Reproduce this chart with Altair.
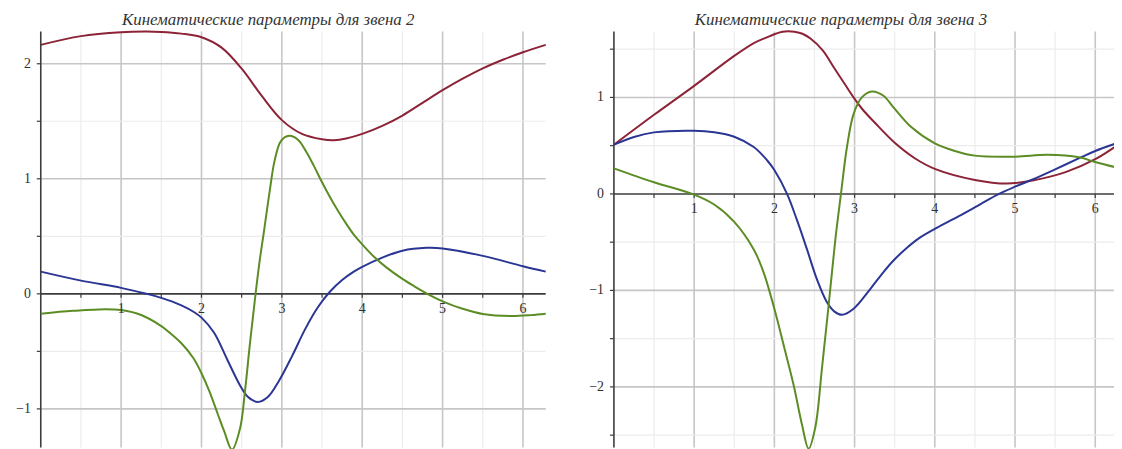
import math
import altair as alt
import pandas as pd

TWO_PI = 2 * math.pi

# ---------------- data: link 2 (left) ----------------
r2_x = [0, 0.5, 1.0, 1.3, 1.5, 1.75, 2.0, 2.25, 2.5, 2.75, 3.0, 3.25, 3.5, 3.65, 3.8, 4.0, 4.25, 4.5, 4.75, 5.0, 5.25, 5.5, 5.75, 6.0, TWO_PI]
r2_y = [2.164, 2.24, 2.274, 2.28, 2.277, 2.262, 2.23, 2.14, 1.957, 1.72, 1.51, 1.39, 1.343, 1.335, 1.35, 1.39, 1.46, 1.55, 1.66, 1.77, 1.87, 1.96, 2.035, 2.10, 2.164]

b2_x = [0, 0.5, 1.0, 1.3, 1.5, 1.75, 1.91, 2.0, 2.155, 2.317, 2.48, 2.58, 2.70, 2.825, 2.967, 3.13, 3.29, 3.45, 3.6, 3.75, 3.9, 4.0, 4.25, 4.5, 4.8, 5.0, 5.5, 6.0, TWO_PI]
b2_y = [0.193, 0.115, 0.052, 0.003, -0.035, -0.10, -0.16, -0.207, -0.336, -0.566, -0.796, -0.897, -0.94, -0.897, -0.753, -0.537, -0.307, -0.115, 0.02, 0.12, 0.195, 0.235, 0.315, 0.375, 0.40, 0.395, 0.33, 0.24, 0.193]

g2_x = [0, 0.4, 0.8, 1.0, 1.25, 1.5, 1.6, 1.75, 1.9, 2.0, 2.1, 2.2, 2.28, 2.38, 2.48, 2.54, 2.6, 2.66, 2.72, 2.78, 2.85, 2.91, 2.99, 3.09, 3.2, 3.3, 3.4, 3.5, 3.6, 3.7, 3.8, 3.9, 4.0, 4.15, 4.3, 4.5, 4.65, 4.81, 5.0, 5.25, 5.5, 5.85, 6.1, TWO_PI]
g2_y = [-0.173, -0.148, -0.133, -0.141, -0.184, -0.28, -0.335, -0.43, -0.56, -0.69, -0.85, -1.04, -1.19, -1.355, -1.17, -0.853, -0.451, -0.078, 0.267, 0.555, 0.90, 1.158, 1.33, 1.374, 1.34, 1.24, 1.11, 0.97, 0.84, 0.72, 0.61, 0.51, 0.43, 0.32, 0.23, 0.13, 0.065, 0.0, -0.065, -0.13, -0.175, -0.193, -0.185, -0.173]

# ---------------- data: link 3 (right) ----------------
r3_x = [0, 0.5, 1.0, 1.5, 1.75, 1.9, 2.0, 2.1, 2.17, 2.25, 2.35, 2.45, 2.6, 2.75, 2.9, 3.0, 3.1, 3.25, 3.5, 3.75, 4.0, 4.5, 4.9, 5.22, 5.63, 6.0, TWO_PI]
r3_y = [0.51, 0.82, 1.12, 1.43, 1.565, 1.62, 1.655, 1.68, 1.685, 1.68, 1.66, 1.61, 1.49, 1.30, 1.11, 0.985, 0.875, 0.74, 0.53, 0.37, 0.26, 0.145, 0.107, 0.14, 0.226, 0.36, 0.51]

b3_x = [0, 0.25, 0.5, 1.0, 1.25, 1.5, 1.743, 1.909, 2.0, 2.158, 2.28, 2.407, 2.53, 2.656, 2.75, 2.842, 2.988, 3.195, 3.35, 3.485, 3.65, 3.8, 4.06, 4.3, 4.55, 4.8, 5.0, 5.22, 5.5, 5.8, 6.0, TWO_PI]
b3_y = [0.51, 0.59, 0.638, 0.655, 0.64, 0.593, 0.486, 0.349, 0.247, 0.0, -0.267, -0.575, -0.884, -1.123, -1.22, -1.253, -1.19, -0.986, -0.82, -0.69, -0.56, -0.46, -0.335, -0.23, -0.115, 0.0, 0.075, 0.15, 0.255, 0.37, 0.445, 0.53]

g3_x = [0, 0.5, 1.0, 1.25, 1.5, 1.743, 1.867, 2.0, 2.116, 2.24, 2.344, 2.427, 2.51, 2.593, 2.676, 2.76, 2.83, 2.905, 2.988, 3.09, 3.216, 3.36, 3.485, 3.71, 4.0, 4.24, 4.5, 5.0, 5.4, 5.8, 6.0, TWO_PI]
g3_y = [0.265, 0.121, -0.007, -0.11, -0.29, -0.575, -0.815, -1.19, -1.568, -1.98, -2.39, -2.64, -2.42, -1.81, -1.158, -0.473, 0.0, 0.486, 0.829, 1.0, 1.062, 1.017, 0.897, 0.69, 0.524, 0.448, 0.397, 0.386, 0.405, 0.38, 0.33, 0.27]

titles = ["Кинематические параметры для звена 2", "Кинематические параметры для звена 3"]
x_ticks_major = [1, 2, 3, 4, 5, 6]
x_ticks_all = [0.5 * k for k in range(1, 13)]
left_y_major = [2, 1, -1]
left_y_minor = [1.5, 0.5, -0.5]
left_y_labels = [2, 1, 0, -1]
right_y_major = [1, -1, -2]
right_y_minor = [1.5, 0.5, -0.5, -1.5, -2.5]
right_y_labels = [1, 0, -1, -2]

COL_RED = "#8c2337"
COL_BLUE = "#2b3694"
COL_GREEN = "#5c8c24"
MAJOR = "#c6c6c6"
MINOR = "#ececec"
AXIS = "#3c3c3c"
LABEL = "#2e2e2e"
FONT = "Liberation Serif"


def fmt(v):
    return ("\u2212" + str(abs(int(v)))) if v < 0 else str(int(v))


def panel(series, ydom, xrange_px, yrange_px, y_major, y_minor, y_labels, title, label_dy):
    xs = alt.Scale(domain=[0, TWO_PI], range=xrange_px, nice=False, zero=False)
    ys = alt.Scale(domain=ydom, range=yrange_px, nice=False, zero=False)
    ymin, ymax = ydom
    layers = []

    minor_x = pd.DataFrame({"v": [v for v in x_ticks_all if v not in x_ticks_major]})
    major_x = pd.DataFrame({"v": x_ticks_major})
    for df, col, w in [(minor_x, MINOR, 1.2), (major_x, MAJOR, 1.6)]:
        layers.append(
            alt.Chart(df).mark_rule(color=col, strokeWidth=w).encode(
                x=alt.X("v:Q", scale=xs, axis=None),
                y=alt.YDatum(ymin, scale=ys, axis=None),
                y2=alt.Y2Datum(ymax),
            )
        )
    for vals, col, w in [(y_minor, MINOR, 1.2), (y_major, MAJOR, 1.6)]:
        layers.append(
            alt.Chart(pd.DataFrame({"v": vals})).mark_rule(color=col, strokeWidth=w).encode(
                y=alt.Y("v:Q", scale=ys, axis=None),
                x=alt.XDatum(0, scale=xs, axis=None),
                x2=alt.X2Datum(TWO_PI),
            )
        )
    one = pd.DataFrame({"a": [0]})
    layers.append(
        alt.Chart(one).mark_rule(color=AXIS, strokeWidth=1.6).encode(
            x=alt.XDatum(0, scale=xs, axis=None), x2=alt.X2Datum(TWO_PI),
            y=alt.YDatum(0, scale=ys, axis=None),
        )
    )
    layers.append(
        alt.Chart(one).mark_rule(color=AXIS, strokeWidth=1.6).encode(
            x=alt.XDatum(0, scale=xs, axis=None),
            y=alt.YDatum(ymin, scale=ys, axis=None), y2=alt.Y2Datum(ymax),
        )
    )
    layers.append(
        alt.Chart(pd.DataFrame({"v": x_ticks_all})).mark_rule(color=AXIS, strokeWidth=1.2, y2Offset=4).encode(
            x=alt.X("v:Q", scale=xs, axis=None),
            y=alt.YDatum(0, scale=ys, axis=None), y2=alt.Y2Datum(0),
        )
    )
    y_tick_vals = [v for v in y_minor + y_major + [0]]
    layers.append(
        alt.Chart(pd.DataFrame({"v": y_tick_vals})).mark_rule(color=AXIS, strokeWidth=1.2, x2Offset=-4).encode(
            y=alt.Y("v:Q", scale=ys, axis=None),
            x=alt.XDatum(0, scale=xs, axis=None), x2=alt.X2Datum(0),
        )
    )
    for (sx, sy, col) in series:
        layers.append(
            alt.Chart(pd.DataFrame({"x": sx, "y": sy})).mark_line(
                color=col, strokeWidth=2, interpolate="catmull-rom"
            ).encode(
                x=alt.X("x:Q", scale=xs, axis=None),
                y=alt.Y("y:Q", scale=ys, axis=None),
                order="x:Q",
            )
        )
    layers.append(
        alt.Chart(pd.DataFrame({"v": x_ticks_major, "t": [fmt(v) for v in x_ticks_major]})).mark_text(
            font=FONT, fontSize=14, color=LABEL, dy=label_dy, baseline="middle"
        ).encode(
            x=alt.X("v:Q", scale=xs, axis=None),
            y=alt.YDatum(0, scale=ys, axis=None),
            text="t:N",
        )
    )
    layers.append(
        alt.Chart(pd.DataFrame({"v": y_labels, "t": [fmt(v) for v in y_labels]})).mark_text(
            font=FONT, fontSize=14, color=LABEL, dx=-10, align="right", baseline="middle"
        ).encode(
            y=alt.Y("v:Q", scale=ys, axis=None),
            x=alt.XDatum(0, scale=xs, axis=None),
            text="t:N",
        )
    )
    layers.append(
        alt.Chart(pd.DataFrame({"t": [title]})).mark_text(
            font=FONT, fontStyle="italic", fontSize=17, color="#333333", baseline="middle"
        ).encode(
            x=alt.XDatum(2.83, scale=xs, axis=None),
            y=alt.value(11),
            text="t:N",
        )
    )
    return alt.layer(*layers)


left = panel(
    [(r2_x, r2_y, COL_RED), (b2_x, b2_y, COL_BLUE), (g2_x, g2_y, COL_GREEN)],
    [-1.335, 2.281], [33, 541.6], [441, 22],
    left_y_major, left_y_minor, left_y_labels, titles[0], 15,
)
right = panel(
    [(r3_x, r3_y, COL_RED), (b3_x, b3_y, COL_BLUE), (g3_x, g3_y, COL_GREEN)],
    [-2.627, 1.684], [610.3, 1118], [441, 22],
    right_y_major, right_y_minor, right_y_labels, titles[1], 15,
)

chart = alt.layer(left, right).resolve_scale(x="independent", y="independent").properties(
    width=1114, height=441, padding=0, autosize="none", background="white"
).configure_view(strokeWidth=0)

chart.save("out.html", embed_options={"renderer": "svg", "actions": False})
